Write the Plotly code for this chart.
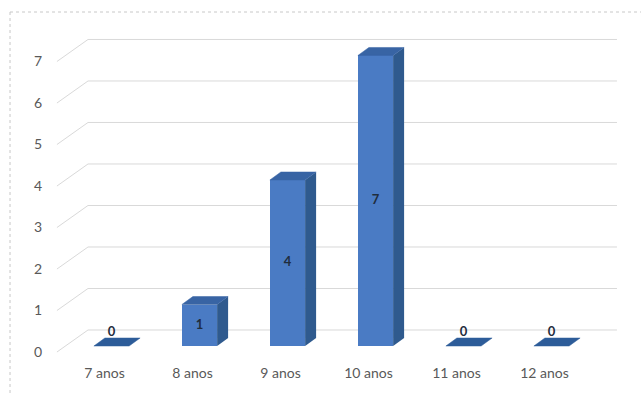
import plotly.graph_objects as go

# ---- data ----
categories = ["7 anos", "8 anos", "9 anos", "10 anos", "11 anos", "12 anos"]
values = [0, 1, 4, 7, 0, 0]
y_ticks = [0, 1, 2, 3, 4, 5, 6, 7]

# ---- style / geometry constants (data units) ----
FRONT = "#4A7BC4"
SIDE = "#2F5A8E"
TOP = "#3864A4"
FLAT = "#2D5C99"
GRID = "#D9D9D9"
TXT = "#595959"
BAR_W = 0.4           # front face width (category units)
DEPTH_X = 0.125       # bar depth, horizontal
DEPTH_Y = 0.193       # bar depth, vertical
WALL_FRONT_X = -0.62  # left-wall front edge
WALL_FRONT_DY = -0.145
BACK_LEFT_X = -0.267
BACK_RIGHT_X = 5.744
BACK_DY = 0.386

fig = go.Figure()

# back wall + side wall gridlines (below the bars)
for t in y_ticks:
    fig.add_shape(type="line", xref="x", yref="y", layer="below",
                  x0=WALL_FRONT_X, y0=t + WALL_FRONT_DY, x1=BACK_LEFT_X, y1=t + BACK_DY,
                  line=dict(color=GRID, width=1))
    fig.add_shape(type="line", xref="x", yref="y", layer="below",
                  x0=BACK_LEFT_X, y0=t + BACK_DY, x1=BACK_RIGHT_X, y1=t + BACK_DY,
                  line=dict(color=GRID, width=1))

xs = list(range(len(categories)))

# front faces
fig.add_trace(go.Bar(x=xs, y=values, width=BAR_W, marker=dict(color=FRONT, line=dict(width=0)),
                     showlegend=False, hoverinfo="skip"))

for i, v in zip(xs, values):
    l, r = i - BAR_W / 2, i + BAR_W / 2
    # side face
    if v > 0:
        fig.add_trace(go.Scatter(
            x=[r, r + DEPTH_X, r + DEPTH_X, r, r],
            y=[0, DEPTH_Y, v + DEPTH_Y, v, 0],
            mode="lines", fill="toself", fillcolor=SIDE, line=dict(width=0, color=SIDE),
            hoverinfo="skip", showlegend=False))
    # top face
    c = TOP if v > 0 else FLAT
    fig.add_trace(go.Scatter(
        x=[l, r, r + DEPTH_X, l + DEPTH_X, l],
        y=[v, v, v + DEPTH_Y, v + DEPTH_Y, v],
        mode="lines", fill="toself", fillcolor=c, line=dict(width=0.5, color=c),
        hoverinfo="skip", showlegend=False))

# data labels
lab_y = [v / 2 if v > 0 else 0.31 for v in values]
fig.add_trace(go.Scatter(x=xs, y=lab_y, mode="text", text=[str(v) for v in values],
                         textfont=dict(family="Lato", size=13, color="#1F2D3D", weight="bold"),
                         hoverinfo="skip", showlegend=False))

# chart-area border (dotted) on left and top
fig.add_shape(type="line", xref="paper", yref="paper", x0=-0.0598, x1=-0.0598, y0=1.0, y1=-0.12,
              line=dict(color="#C8C8C8", width=1, dash="dot"))
fig.add_shape(type="line", xref="paper", yref="paper", x0=-0.0598, x1=1.03, y0=1.0, y1=1.0,
              line=dict(color="#C8C8C8", width=1, dash="dot"))

fig.update_layout(
    width=641, height=394,
    margin=dict(l=45, r=11, t=12, b=34),
    paper_bgcolor="white", plot_bgcolor="white",
    font=dict(family="Lato", size=14, color=TXT),
    bargap=0,
    xaxis=dict(range=[-0.7557, 5.892], tickvals=xs, ticktext=categories,
               showgrid=False, zeroline=False, showline=False, ticks="",
               ticklabelshift=-7, ticklabelstandoff=3,
               tickfont=dict(family="Lato", size=14, color=TXT)),
    yaxis=dict(range=[-0.337, 8.048], tickvals=y_ticks, showgrid=False, zeroline=False,
               showline=False, ticks="", ticklabelshift=6, ticklabelstandoff=2,
               tickfont=dict(family="Lato", size=14, color=TXT)),
)

fig.write_html("out.html")
